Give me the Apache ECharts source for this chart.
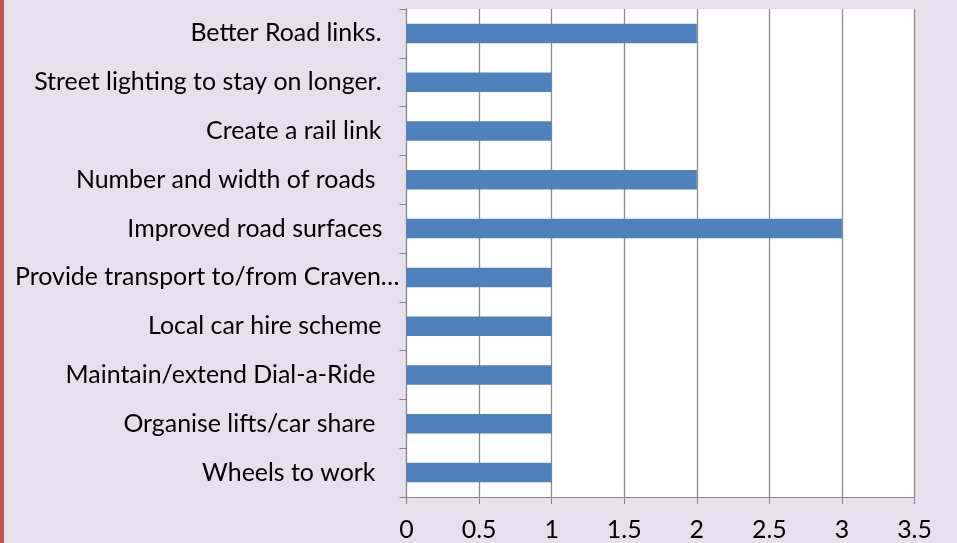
<!DOCTYPE html>
<html>
<head>
<meta charset="utf-8">
<script src="https://cdn.jsdelivr.net/npm/echarts@6/dist/echarts.min.js"></script>
<style>
html,body{margin:0;padding:0;background:#E5E0EC;}
#chart{width:957px;height:543px;}
</style>
</head>
<body>
<div id="chart"></div>
<script>
// Categories listed bottom-to-top (ECharts category y-axis order)
const categories = [
  "Wheels to work",
  "Organise lifts/car share",
  "Maintain/extend Dial-a-Ride",
  "Local car hire scheme",
  "Provide transport to/from Craven…",
  "Improved road surfaces",
  "Number and width of roads",
  "Create a rail link",
  "Street lighting to stay on longer.",
  "Better Road links."
];
const values = [1, 1, 1, 1, 1, 3, 2, 1, 1, 2];
const xTicks = [0, 0.5, 1, 1.5, 2, 2.5, 3, 3.5];

const FONT = 'Lato';
const FS = 24.9;

// right padding (trailing-space look) per label, by index
const labelPad = [24, 24, 24, 18, 0, 17, 24, 18, 18, 18];
const rich = {};
labelPad.forEach((p, i) => {
  rich['p' + i] = { padding: [0, p, 0, 0], fontFamily: FONT, fontSize: FS, color: '#000' };
});

const chart = echarts.init(document.getElementById('chart'), null, { renderer: 'canvas' });
chart.setOption({
  backgroundColor: '#E5E0EC',
  animation: false,
  graphic: [{
    type: 'rect', left: 0, top: 0,
    shape: { width: 4, height: 543 },
    style: { fill: '#C0504D' }
  }],
  grid: {
    left: 406.5, right: 42.5, top: 9, bottom: 46,
    show: true, backgroundColor: '#FFFFFF', borderWidth: 0,
    containLabel: false
  },
  xAxis: {
    type: 'value',
    min: xTicks[0], max: xTicks[xTicks.length - 1], interval: 0.5,
    axisLine: { show: true, lineStyle: { color: '#868686', width: 1 } },
    axisTick: { show: true, length: 7, lineStyle: { color: '#868686' } },
    splitLine: { show: true, lineStyle: { color: '#8C8C8C', width: 1.3 } },
    axisLabel: { color: '#000', fontFamily: FONT, fontSize: FS, margin: 20 }
  },
  yAxis: {
    type: 'category',
    data: categories,
    axisLine: { show: true, lineStyle: { color: '#868686', width: 1 } },
    axisTick: { show: true, length: 7, lineStyle: { color: '#868686' } },
    splitLine: { show: false },
    axisLabel: {
      margin: 7, interval: 0,
      formatter: (v, i) => '{p' + i + '|' + v + '}',
      rich: rich
    }
  },
  series: [{
    type: 'bar',
    data: values,
    barWidth: '40%',
    itemStyle: { color: '#4F81BD' }
  }]
});
</script>
</body>
</html>
